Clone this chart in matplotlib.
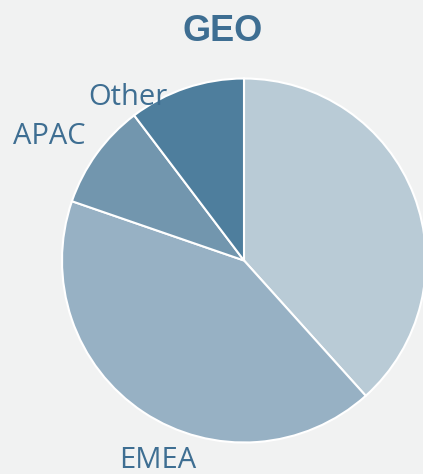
import matplotlib
matplotlib.use("Agg")
from matplotlib import pyplot as plt

# region shares (%), clockwise from 12 o'clock
regions = ['Americas', 'EMEA', 'APAC', 'Other']
shares = [38.3, 41.9, 9.4, 10.3]
colors = ['#b9cbd6', '#97b1c4', '#7296ae', '#4e7e9d']

bg = '#f1f2f2'
txt = '#3e6e92'

W, H = 423, 474
fig = plt.figure(figsize=(W/100, H/100), dpi=100, facecolor=bg)
ax = fig.add_axes([0, 0, 1, 1])
ax.set_facecolor(bg)

cx, cy, r = 244, H - 260.5, 182
ax.pie(shares, colors=colors, startangle=90, counterclock=False,
       center=(cx, cy), radius=r, frame=True,
       wedgeprops=dict(edgecolor='white', linewidth=1.5))
ax.set_xlim(0, W)
ax.set_ylim(0, H)
ax.set_aspect('equal')
ax.axis('off')

# label spots (pixel coords, baseline), first slice label falls off canvas
label_pos = {'EMEA': (157.5, 468), 'APAC': (49, 144), 'Other': (127.5, 105)}
for name in regions:
    if name in label_pos:
        x, y = label_pos[name]
        ax.text(x, H - y, name, ha='center', va='baseline', fontsize=21,
                color=txt, family='Open Sans')

ax.text(223, H - 40.5, 'GEO', ha='center', va='baseline', fontsize=26,
        fontweight='bold', color=txt, family='Liberation Sans')

fig.savefig('out.png', dpi=100, facecolor=bg)
